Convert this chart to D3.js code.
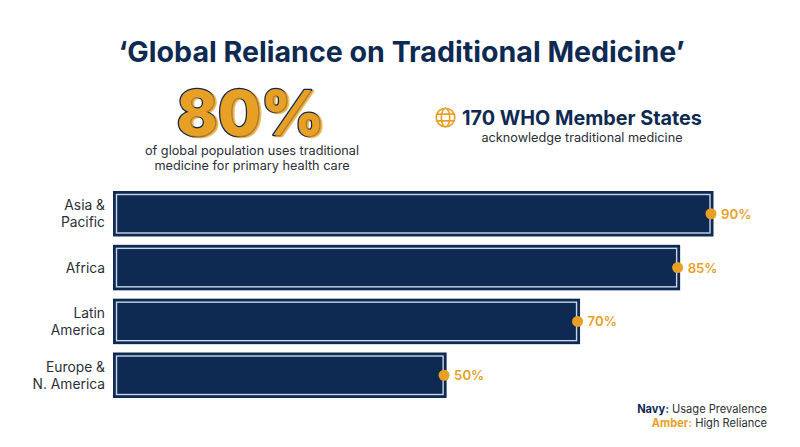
<!DOCTYPE html>
<html><head><meta charset="utf-8">
<script src="https://cdn.jsdelivr.net/npm/d3@7"></script>
<style>html,body{margin:0;padding:0;background:#fff}svg{display:block;font-family:Inter,"Noto Sans",sans-serif}</style>
</head><body><svg id="c" width="800" height="447"></svg>
<script>
const categories = [["Asia &","Pacific"],["Africa"],["Latin","America"],["Europe &","N. America"]];
const values = [90,85,70,50];
const titleText = "‘Global Reliance on Traditional Medicine’";
const heroText = "80%";
const heroSub = ["of global population uses traditional","medicine for primary health care"];
const statText = "170 WHO Member States";
const statSub = "acknowledge traditional medicine";
const navy = "#0f2a52", amber = "#e8a024", ink = "#2b2f36";

const svg = d3.select("#c");
const x = d3.scaleLinear().domain([0,90]).range([113,713.5]);
const y = d3.scaleBand().domain(d3.range(values.length)).range([191,398]).paddingInner(0.155).paddingOuter(0);

svg.append("text").attr("x",401.5).attr("y",62).attr("text-anchor","middle")
  .attr("font-size",28.6).attr("font-weight",700).attr("fill",navy).text(titleText);

svg.append("text").attr("x",250.5).attr("y",134.5).attr("text-anchor","middle")
  .attr("font-size",62).attr("font-weight",800).attr("fill",amber).attr("stroke",navy).attr("stroke-width",2.6)
  .attr("paint-order","stroke").attr("stroke-linejoin","round")
  .style("text-shadow","2px 1.5px 0 rgba(232,160,36,.7)").text(heroText);

svg.append("g").selectAll("text").data(heroSub).join("text")
  .attr("x",252).attr("y",(d,i)=>155+i*15).attr("text-anchor","middle")
  .attr("font-size",12.7).attr("fill",ink).text(d=>d);

const globe = svg.append("g").attr("transform","translate(445.5,117.5)").attr("fill","none").attr("stroke",amber).attr("stroke-width",1.6);
globe.append("circle").attr("r",9.3);
globe.append("ellipse").attr("rx",4.2).attr("ry",9.3);
globe.append("path").attr("d",d3.line()([[-9,-3.4],[9,-3.4]])+d3.line()([[-9,3.4],[9,3.4]]));

svg.append("text").attr("x",462).attr("y",125).attr("font-size",19.8).attr("font-weight",700).attr("fill",navy).text(statText);
svg.append("text").attr("x",582).attr("y",142).attr("text-anchor","middle").attr("font-size",12.7).attr("fill",ink).text(statSub);

const rows = svg.append("g").selectAll("g").data(values).join("g");
rows.append("rect").attr("x",x(0)).attr("y",(d,i)=>y(i)).attr("width",d=>x(d)-x(0)).attr("height",y.bandwidth()).attr("fill",navy);
rows.append("rect").attr("x",x(0)+3.5).attr("y",(d,i)=>y(i)+3.5).attr("width",d=>x(d)-x(0)-7).attr("height",y.bandwidth()-7)
  .attr("fill","none").attr("stroke","#c9d5e6").attr("stroke-width",1.4);
rows.append("circle").attr("cx",d=>x(d)-2.5).attr("cy",(d,i)=>y(i)+y.bandwidth()/2).attr("r",5.5).attr("fill",amber);
rows.append("text").attr("x",d=>x(d)+7.5).attr("y",(d,i)=>y(i)+y.bandwidth()/2+5)
  .attr("font-size",13.2).attr("font-weight",600).attr("fill",amber).text(d=>d+"%");

const labels = svg.append("g").selectAll("text").data(categories).join("text")
  .attr("text-anchor","end").attr("font-size",13.8).attr("fill",ink);
labels.each(function(d,i){
  const c = y(i)+y.bandwidth()/2;
  d3.select(this).selectAll("tspan").data(d).join("tspan")
    .attr("x",105).attr("y",(t,j)=>c+5+(j-(d.length-1)/2)*17).text(t=>t);
});

const leg = svg.append("g").attr("font-size",11.1).attr("text-anchor","end").attr("fill",ink);
const l1 = leg.append("text").attr("x",767).attr("y",413);
l1.append("tspan").attr("font-weight",700).attr("fill",navy).text("Navy:");
l1.append("tspan").text(" Usage Prevalence");
const l2 = leg.append("text").attr("x",767).attr("y",427);
l2.append("tspan").attr("font-weight",700).attr("fill",amber).text("Amber:");
l2.append("tspan").text(" High Reliance");
</script></body></html>
